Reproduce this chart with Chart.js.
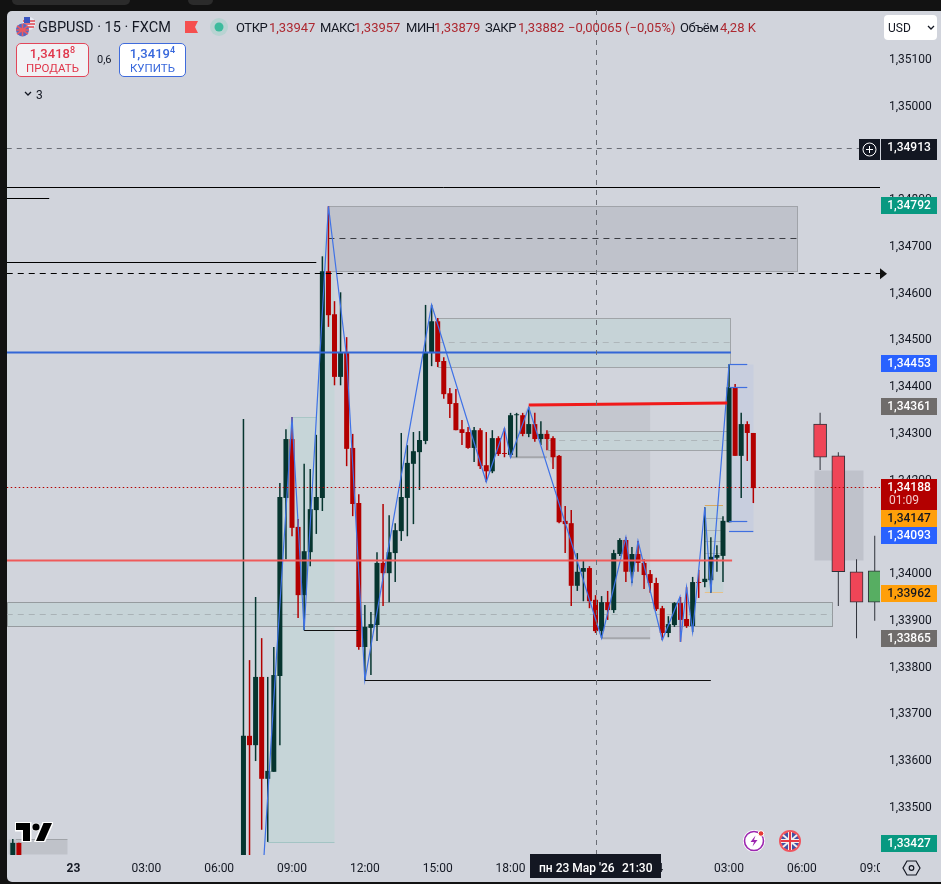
<!DOCTYPE html>
<html>
<head>
<meta charset="utf-8">
<title>GBPUSD 15</title>
<script src="https://cdn.jsdelivr.net/npm/chart.js@4"></script>
<style>
    html, body { margin: 0; padding: 0; background: #121212; width: 941px; height: 884px; overflow: hidden; }
    body { position: relative; font-family: Roboto, sans-serif; color: #131722; }
    #panel { position: absolute; left: 7px; top: 11px; width: 934px; height: 871px; background: #d1d4dc; border-radius: 5px 0 0 5px; }
    #tab1, #tab2 { position: absolute; top: 0; height: 5px; background: #2b2b2b; border-radius: 0 0 8px 8px; }
    #tab1 { left: 12px; width: 118px; }
    #tab2 { left: 188px; width: 25px; }
    canvas { position: absolute; left: 0; top: 0; }
    .t { position: absolute; white-space: nowrap; font-size: 13px; line-height: 16px; top: 20px; }
    .l { letter-spacing: -.45px; }
    .v { color: #ad2830; }
    .box { position: absolute; box-sizing: border-box; text-align: center; border-radius: 5px; border: 1px solid; }
    .box b { display: block; font-weight: 500; font-size: 13px; line-height: 15px; margin-top: 2px; letter-spacing: .1px; }
    .box b sup { font-size: 9px; line-height: 0; }
    .box span { display: block; font-size: 11.5px; line-height: 14px; }
    #sell { left: 16px; top: 43px; width: 73px; height: 34px; border-color: #e2465a; color: #e0364b; background: #f1f2f5; }
    #buy { left: 119px; top: 43px; width: 67px; height: 34px; border-color: #3f6bdc; color: #3868dc; background: #fff; }
    svg { position: absolute; }
</style>
</head>
<body>
<div id="tab1"></div><div id="tab2"></div>
<div id="panel"></div>
<canvas id="chart" width="941" height="884"></canvas>

<svg style="left:16px;top:17px" width="20" height="20" viewBox="0 0 20 20">
    <circle cx="13" cy="6.5" r="6.5" fill="#e9ecf5"/>
    <path d="M7 4h12M7 7h12M8 10h10" stroke="#e0464f" stroke-width="1.4"/>
    <rect x="8" y="0" width="6" height="6" fill="#3a55c0"/>
    <circle cx="6.5" cy="13" r="6.5" fill="#5468c4"/>
    <path d="M1 9l11 8M12 9L1 17M6.5 7v12M0 13h13" stroke="#e85a63" stroke-width="1.6"/>
</svg>
<div class="t" style="left:38px;top:18px;font-size:14.5px;line-height:19px">GBPUSD · 15 · FXCM</div>
<svg style="left:185px;top:20px" width="14" height="14"><path d="M0 1h13l-3 6 3 6H0z" fill="#f54f4f"/></svg>
<svg style="left:209px;top:17px" width="20" height="20"><circle cx="10" cy="10" r="9" fill="#b8d3d2"/><circle cx="10" cy="10" r="4.5" fill="#3dbb9d"/></svg>
<div class="t l" style="left:236px">ОТКР</div><div class="t v" style="left:269px">1,33947</div>
<div class="t l" style="left:320px">МАКС</div><div class="t v" style="left:354px">1,33957</div>
<div class="t l" style="left:406px">МИН</div><div class="t v" style="left:434px">1,33879</div>
<div class="t l" style="left:485px">ЗАКР</div><div class="t v" style="left:518px">1,33882</div>
<div class="t v" style="left:568px">−0,00065 (−0,05%)</div>
<div class="t l" style="left:680px">Объём</div><div class="t v" style="left:720px">4,28 K</div>

<div id="sell" class="box"><b>1,3418<sup>8</sup></b><span>ПРОДАТЬ</span></div>
<div class="t" style="left:97px;top:52px;font-size:11px">0,6</div>
<div id="buy" class="box"><b>1,3419<sup>4</sup></b><span>КУПИТЬ</span></div>
<svg style="left:24px;top:91px" width="8" height="6"><path d="M1 1l3 3 3-3" fill="none" stroke="#131722" stroke-width="1.3"/></svg>
<div class="t" style="left:36px;top:87px;font-size:12px">3</div>
<div style="position:absolute;left:884px;top:15px;width:53px;height:25px;background:#fff;border-radius:4px"></div>
<div class="t" style="left:888px;top:20px;font-size:12px">USD</div>
<svg style="left:927px;top:25px" width="8" height="6"><path d="M1 1l3 3 3-3" fill="none" stroke="#131722" stroke-width="1.3"/></svg>

<svg style="left:15px;top:822px" width="38" height="20" viewBox="-1 -1 38 20"><path d="M14 18H7V7H0V0h14zM28 18h-8L27.6 0H36z" fill="#000" stroke="#fff" stroke-width="3" paint-order="stroke"/><circle cx="20" cy="4" r="3.6" fill="#000" stroke="#fff" stroke-width="1.5" paint-order="stroke"/></svg>

<svg style="left:742px;top:829px" width="24" height="24" viewBox="0 0 24 24"><circle cx="12" cy="12" r="11" fill="#fff"/><circle cx="12" cy="12" r="9.5" fill="none" stroke="#9c27b0" stroke-width="1.6"/><path d="M13.5 6.5L8.5 13h3.5l-1.5 4.5 5-6.5H12z" fill="#9c27b0"/><circle cx="19" cy="4.5" r="2.8" fill="#e53935" stroke="#fff"/></svg>
<svg style="left:778px;top:829px" width="24" height="24" viewBox="0 0 24 24"><circle cx="12" cy="12" r="11" fill="#f0555f"/><circle cx="12" cy="12" r="8.8" fill="#3f51a5"/><path d="M5 6l14 12M19 6L5 18" stroke="#eee" stroke-width="2"/><path d="M12 3v18M3 12h18" stroke="#eee" stroke-width="4"/><path d="M12 3v18M3 12h18" stroke="#e53945" stroke-width="2"/></svg>
<svg style="left:902px;top:859px" width="19" height="18" viewBox="0 0 19 18"><path d="M5 2h9l4 7-4 7H5L1 9z" fill="none" stroke="#131722" stroke-width="1.2"/><circle cx="9.5" cy="9" r="2.3" fill="none" stroke="#131722" stroke-width="1.2"/></svg>

<script>
// Bar position: 0 is midnight of the 23rd, one bar is 15 minutes
const barIndex = [-10, -9,
    28, 29, 30, 31, 32, 33, 34, 35, 36, 37, 38, 39, 40, 41, 42, 43, 44, 45, 46, 47,
    48, 49, 50, 51, 52, 53, 54, 55, 56, 57, 58, 59, 60, 61, 62, 63, 64, 65, 66, 67,
    68, 69, 70, 71, 72, 73, 74, 75, 76, 77, 78, 79, 80, 81, 82, 83, 84, 85, 86, 87,
    88, 89, 90, 91, 92, 93, 94, 95, 96, 97, 98, 99, 100, 101, 102, 103, 104, 105,
    106, 107, 108, 109, 110, 111, 112];
const opens = [1.33346, 1.33425,
    1.33346, 1.33654, 1.33634, 1.33780, 1.33562, 1.33577, 1.33782, 1.34163, 1.34289, 1.34101, 1.33955, 1.34047, 1.34137, 1.34163, 1.34648, 1.34556, 1.34422, 1.34473, 1.34270, 1.34152,
    1.33844, 1.33885, 1.33891, 1.34024, 1.34002, 1.34045, 1.34092, 1.34163, 1.34236, 1.34261, 1.34285, 1.34473, 1.34541, 1.34456, 1.34387, 1.34366, 1.34310, 1.34304, 1.34270, 1.34308,
    1.34233, 1.34220, 1.34291, 1.34259, 1.34255, 1.34340, 1.34340, 1.34300, 1.34321, 1.34289, 1.34300, 1.34291, 1.34253, 1.34114, 1.34109, 1.33975, 1.34005, 1.34013, 1.33945, 1.33878,
    1.33940, 1.33923, 1.34043, 1.34073, 1.34005, 1.34043, 1.34024, 1.34000, 1.33981, 1.33927, 1.33874, 1.33891, 1.33938, 1.33904, 1.33889, 1.33983, 1.33983, 1.33987,
    1.34035, 1.34039, 1.34111, 1.34400, 1.34253, 1.34321, 1.34302];
const highs = [1.33433, 1.33425,
    1.34332, 1.33816, 1.33951, 1.33863, 1.33780, 1.33844, 1.34195, 1.34310, 1.34336, 1.34118, 1.34236, 1.34225, 1.34298, 1.34680, 1.34787, 1.34584, 1.34603, 1.34507, 1.34300, 1.34171,
    1.33934, 1.33919, 1.34047, 1.34150, 1.34126, 1.34109, 1.34302, 1.34276, 1.34304, 1.34306, 1.34576, 1.34576, 1.34548, 1.34464, 1.34398, 1.34396, 1.34330, 1.34315, 1.34315, 1.34312,
    1.34304, 1.34308, 1.34295, 1.34312, 1.34345, 1.34345, 1.34345, 1.34357, 1.34345, 1.34327, 1.34308, 1.34295, 1.34255, 1.34146, 1.34137, 1.34045, 1.34028, 1.34017, 1.33955, 1.33953,
    1.33964, 1.34052, 1.34077, 1.34079, 1.34058, 1.34071, 1.34032, 1.34009, 1.33992, 1.33932, 1.33910, 1.33940, 1.33951, 1.33972, 1.33994, 1.34009, 1.34143, 1.34079,
    1.34062, 1.34124, 1.34449, 1.34407, 1.34345, 1.34327, 1.34302];
const lows = [1.33346, 1.33346,
    1.33303, 1.33346, 1.33600, 1.33453, 1.33427, 1.33577, 1.33634, 1.34032, 1.34081, 1.33906, 1.33880, 1.34017, 1.34086, 1.34135, 1.34529, 1.34404, 1.34404, 1.34231, 1.34124, 1.33838,
    1.33773, 1.33784, 1.33857, 1.33932, 1.33940, 1.33983, 1.34071, 1.34081, 1.34107, 1.34180, 1.34278, 1.34445, 1.34443, 1.34375, 1.34334, 1.34308, 1.34276, 1.34268, 1.34240, 1.34225,
    1.34197, 1.34216, 1.34253, 1.34250, 1.34250, 1.34250, 1.34295, 1.34293, 1.34283, 1.34276, 1.34265, 1.34225, 1.34109, 1.34045, 1.33932, 1.33964, 1.33942, 1.33927, 1.33874, 1.33863,
    1.33902, 1.33917, 1.34039, 1.33983, 1.33981, 1.34005, 1.33968, 1.33960, 1.33921, 1.33859, 1.33865, 1.33887, 1.33855, 1.33885, 1.33876, 1.33949, 1.33972, 1.33960,
    1.34005, 1.33983, 1.34111, 1.34253, 1.34163, 1.34242, 1.34152];
const closes = [1.33425, 1.33346,
    1.33654, 1.33634, 1.33780, 1.33562, 1.33579, 1.33784, 1.34165, 1.34289, 1.34099, 1.33955, 1.34049, 1.34139, 1.34165, 1.34648, 1.34554, 1.34422, 1.34473, 1.34268, 1.34150, 1.33844,
    1.33887, 1.33893, 1.34024, 1.34002, 1.34047, 1.34094, 1.34165, 1.34238, 1.34263, 1.34287, 1.34473, 1.34541, 1.34454, 1.34385, 1.34364, 1.34308, 1.34302, 1.34270, 1.34308, 1.34231,
    1.34220, 1.34291, 1.34257, 1.34257, 1.34340, 1.34342, 1.34300, 1.34321, 1.34289, 1.34300, 1.34289, 1.34250, 1.34111, 1.34107, 1.33975, 1.34005, 1.34013, 1.33942, 1.33878, 1.33940,
    1.33923, 1.34045, 1.34073, 1.34005, 1.34043, 1.34024, 1.33998, 1.33981, 1.33925, 1.33874, 1.33893, 1.33938, 1.33902, 1.33889, 1.33983, 1.33981, 1.33990, 1.34037,
    1.34041, 1.34114, 1.34400, 1.34253, 1.34321, 1.34302, 1.34184];

// The four wide higher timeframe candles on the right
const htfIndex = [123, 126, 129, 132];
const htfOpens = [1.34321, 1.34253, 1.34005, 1.33940];
const htfHighs = [1.34345, 1.34261, 1.34032, 1.34082];
const htfLows = [1.34223, 1.33932, 1.33863, 1.33900];
const htfCloses = [1.34250, 1.34005, 1.33940, 1.34007];

// Zigzag through the swing points
const zigIndex = [31.3, 33.4, 36, 38, 42, 45, 48, 59, 68, 71, 72, 75, 87, 91, 92, 93, 97, 99.9, 100, 101, 102, 104, 105, 108];
const zigPrice = [1.33380, 1.33815, 1.34336, 1.33880, 1.34787, 1.34465, 1.33773, 1.34576, 1.34197, 1.34312, 1.34250, 1.34357, 1.33863, 1.34079, 1.33981, 1.34071, 1.33859, 1.33951, 1.33855, 1.33972, 1.33876, 1.34143, 1.33960, 1.34449];

// Axis ticks
const priceTicks = [1.351, 1.350, 1.349, 1.348, 1.347, 1.346, 1.345, 1.344, 1.343, 1.342, 1.340, 1.339, 1.338, 1.337, 1.336, 1.335];
const timeTicks = [0, 12, 24, 36, 48, 60, 72, 84, 96, 108, 120, 132];
const timeLabels = ['23', '03:00', '06:00', '09:00', '12:00', '15:00', '18:00', '21:00', '24', '03:00', '06:00', '09:00'];

// Price tags on the right axis
const tagPrices = [1.34792, 1.34453, 1.34361, 1.34147, 1.34093, 1.33962, 1.33865, 1.33427];
const tagColors = ['#089981', '#2962ff', '#6f6c6b', '#ff9f0a', '#2962ff', '#ff9f0a', '#6f6c6b', '#089981'];
const lastPrice = 1.34188;
const lastLine = 1.34186;
const countdown = '01:09';
const crossPrice = 1.34913;
const crossLine = 1.34911;
const crossIndex = 86.08;
const crossDate = "пн 23 Мар '26";
const crossTime = '21:30';

const upColor = '#06352f';
const downColor = '#b30000';
const isUp = (o, c) => c >= o;

// Helpers for drawing levels and zones through the chart scales
function px(chart, i) { return chart.scales.x.getPixelForValue(i); }
function py(chart, p) { return chart.scales.y.getPixelForValue(p); }

function hline(chart, i0, i1, price, color, width, dash) {
    const ctx = chart.ctx;
    ctx.save();
    ctx.strokeStyle = color;
    ctx.lineWidth = width;
    ctx.setLineDash(dash || []);
    ctx.beginPath();
    ctx.moveTo(px(chart, i0), Math.round(py(chart, price)) + 0.5);
    ctx.lineTo(px(chart, i1), Math.round(py(chart, price)) + 0.5);
    ctx.stroke();
    ctx.restore();
}

function zone(chart, i0, i1, top, bottom, fill, border) {
    const ctx = chart.ctx;
    const x = Math.round(px(chart, i0)) + 0.5, y = Math.round(py(chart, top)) + 0.5;
    const w = Math.round(px(chart, i1)) + 0.5 - x, h = Math.round(py(chart, bottom)) + 0.5 - y;
    ctx.save();
    ctx.fillStyle = fill;
    ctx.fillRect(x, y, w, h);
    if (border) {
        ctx.strokeStyle = border;
        ctx.lineWidth = 1;
        ctx.strokeRect(x, y, w, h);
    }
    ctx.restore();
}

function polygon(chart, idx, prices, fill) {
    const ctx = chart.ctx;
    ctx.save();
    ctx.fillStyle = fill;
    ctx.beginPath();
    idx.forEach((i, n) => {
        if (n === 0) ctx.moveTo(px(chart, i), py(chart, prices[n]));
        else ctx.lineTo(px(chart, i), py(chart, prices[n]));
    });
    ctx.closePath();
    ctx.fill();
    ctx.restore();
}

function segment(chart, i0, p0, i1, p1, color, width) {
    const ctx = chart.ctx;
    ctx.save();
    ctx.strokeStyle = color;
    ctx.lineWidth = width;
    ctx.beginPath();
    ctx.moveTo(px(chart, i0), py(chart, p0));
    ctx.lineTo(px(chart, i1), py(chart, p1));
    ctx.stroke();
    ctx.restore();
}

// Swing zones, they sit under the candles
const zonesPlugin = {
    id: 'zones',
    beforeDatasetsDraw(chart) {
        const a = chart.chartArea;
        const ctx = chart.ctx;
        ctx.save();
        ctx.beginPath();
        ctx.rect(a.left, a.top, a.right - a.left, a.bottom - a.top);
        ctx.clip();

        // teal impulse area on the left
        polygon(chart,
            [31.5, 33.4, 35, 36, 40, 41, 42, 43, 43],
            [1.33427, 1.33837, 1.34304, 1.34336, 1.34336, 1.34683, 1.34787, 1.34787, 1.33427],
            '#c6d5d8');
        hline(chart, 36, 40, 1.34336, '#a9c6c6', 1);
        hline(chart, 32, 43, 1.33427, '#a3c4c4', 1);

        // grey range in the middle
        polygon(chart,
            [72, 74, 75, 95, 95, 87, 85.5, 82.3, 79.5, 78],
            [1.34250, 1.34340, 1.34362, 1.34362, 1.33863, 1.33863, 1.33932, 1.33936, 1.34223, 1.34250],
            '#c4c7cf');
        segment(chart, 72, 1.34250, 78, 1.34250, '#a4a6ab', 2);
        segment(chart, 82.3, 1.33936, 85.5, 1.33932, '#a4a6ab', 2);
        segment(chart, 87, 1.33863, 95, 1.33863, '#a4a6ab', 2);

        // supply box at the top
        zone(chart, 42, 119.2, 1.34787, 1.34648, '#bfc2cb', '#a0a3a9');
        hline(chart, 42, 119.2, 1.34719, '#3a3c42', 1, [6, 5]);

        // teal order blocks
        zone(chart, 60, 108.2, 1.34548, 1.34443, '#c6d3d7', '#a0a4a8');
        hline(chart, 60, 108.2, 1.34497, '#aeb6ba', 1, [6, 5]);
        zone(chart, 78.2, 108.2, 1.34306, 1.34266, '#c6d3d7', '#a0a4a8');
        hline(chart, 78.2, 108.2, 1.34287, '#aeb6ba', 1, [6, 5]);
        zone(chart, -11, 125, 1.33940, 1.33889, '#c6d3d7', '#969b9f');
        hline(chart, -11, 125, 1.33915, '#a9b2b6', 1, [6, 5]);

        // grey box behind the wide candles
        zone(chart, 122, 130.1, 1.34223, 1.34030, '#bfc2cb');

        // small box bottom left
        zone(chart, -10.8, -1, 1.33433, 1.33401, '#bfc2c9');
        hline(chart, -9.5, -1, 1.33433, '#a0a3a8', 1);

        // box around the last leg
        zone(chart, 108, 112, 1.34449, 1.34093, '#c8cede');
        zone(chart, 104, 107, 1.34147, 1.33962, '#c6d3d7');
        [1.34120, 1.34095, 1.34070, 1.34045].forEach(p => hline(chart, 104, 107, p, '#aab2b6', 1));
        hline(chart, 104, 107, 1.34147, '#d8a860', 1);
        hline(chart, 104, 107, 1.33962, '#e6c08a', 1);
        ctx.restore();
    }
};

// Levels that run over the candles, and the axis tags
const overlayPlugin = {
    id: 'overlay',
    afterDatasetsDraw(chart) {
        const a = chart.chartArea;
        const ctx = chart.ctx;
        ctx.save();
        ctx.beginPath();
        ctx.rect(a.left, a.top, a.right - a.left, a.bottom - a.top);
        ctx.clip();

        hline(chart, -11, 133, 1.34828, '#000', 1);
        hline(chart, -11, -4, 1.34805, '#000', 1);
        hline(chart, -11, 40, 1.34668, '#000', 1);
        hline(chart, -11, 133, 1.34644, '#000', 1.2, [6, 5]);
        hline(chart, -11, 108.3, 1.34475, '#3366d6', 2);
        hline(chart, -11, 108.5, 1.34030, '#ef5a5a', 2);
        hline(chart, 38, 46.9, 1.33880, '#111', 1.2);
        hline(chart, 48, 105, 1.33773, '#111', 1.2);
        segment(chart, 75, 1.34362, 107.7, 1.34366, '#f01a1a', 3);

        // ticks on the last leg
        hline(chart, 108, 111, 1.34449, '#3f6fe0', 1.2);
        hline(chart, 108, 111, 1.34400, '#3f6fe0', 1.2);
        hline(chart, 108, 111, 1.34114, '#3f6fe0', 1.2);
        hline(chart, 108, 112, 1.34093, '#3f6fe0', 1.2);

        // last price and crosshair
        hline(chart, -11, 133, lastLine, '#b30000', 1, [1.5, 2.5]);
        hline(chart, -11, 133, crossLine, '#6a6d75', 1, [5, 5]);
        ctx.strokeStyle = '#6a6d75';
        ctx.lineWidth = 1;
        ctx.setLineDash([5, 5]);
        ctx.beginPath();
        ctx.moveTo(Math.round(px(chart, crossIndex)) + 0.5, a.top);
        ctx.lineTo(Math.round(px(chart, crossIndex)) + 0.5, a.bottom);
        ctx.stroke();
        ctx.restore();

        // arrow at the end of the dashed level
        const ay = py(chart, 1.34644);
        ctx.fillStyle = '#111';
        ctx.beginPath();
        ctx.moveTo(a.right, ay - 5);
        ctx.lineTo(a.right + 7, ay + 0.5);
        ctx.lineTo(a.right, ay + 6);
        ctx.closePath();
        ctx.fill();
    },
    afterDraw(chart) {
        const a = chart.chartArea;
        const ctx = chart.ctx;
        const fmt = p => p.toFixed(5).replace('.', ',');
        ctx.save();

        // hide what the last time label shows past the plot
        ctx.fillStyle = '#d1d4dc';
        ctx.fillRect(a.right, a.bottom + 1, 24, 26);

        const tag = (price, bg, fg, top, h) => {
            ctx.fillStyle = bg;
            ctx.fillRect(881, top, 56, h);
            ctx.fillStyle = fg;
            ctx.font = '500 12px Roboto';
            ctx.textAlign = 'center';
            ctx.textBaseline = 'middle';
            ctx.fillText(fmt(price), 909, top + 8.8);
        };

        // tags stack under each other instead of overlapping
        let stackBottom = 0;
        const lastTop = 479, lastBottom = 510;
        tagPrices.forEach((p, n) => {
            let top = Math.round(py(chart, p)) - 7;
            if (p < lastPrice) stackBottom = Math.max(stackBottom, lastBottom);
            top = Math.max(top, stackBottom);
            tag(p, tagColors[n], tagColors[n] === '#ff9f0a' ? '#131722' : '#fff', top, 17);
            stackBottom = top + 17;
        });

        // last price with countdown
        tag(lastPrice, '#b30000', '#fff', lastTop, lastBottom - lastTop);
        ctx.fillStyle = '#f3c9c9';
        ctx.font = '12px Roboto';
        ctx.textAlign = 'left';
        ctx.fillText(countdown, 889, 501);

        // crosshair price
        const cy = Math.round(py(chart, crossPrice));
        tag(crossPrice, '#131722', '#fff', cy - 8, 21);
        ctx.fillStyle = '#131722';
        ctx.fillRect(859, cy - 8, 21, 21);
        ctx.strokeStyle = '#fff';
        ctx.lineWidth = 1;
        ctx.beginPath();
        ctx.arc(869.5, cy + 2.5, 6.5, 0, Math.PI * 2);
        ctx.moveTo(866, cy + 2.5);
        ctx.lineTo(873, cy + 2.5);
        ctx.moveTo(869.5, cy - 1);
        ctx.lineTo(869.5, cy + 6);
        ctx.stroke();

        // crosshair date
        ctx.fillStyle = '#131722';
        ctx.fillRect(530, 854, 131, 24);
        ctx.fillStyle = '#fff';
        ctx.font = '500 12px Roboto';
        ctx.textAlign = 'left';
        ctx.textBaseline = 'middle';
        ctx.fillText(crossDate, 539, 869);
        ctx.fillText(crossTime, 622, 869);
        ctx.restore();
    }
};

function bodyData(idx, o, c) { return idx.map((x, i) => ({ x: x, y: [o[i], c[i]] })); }
function wickData(idx, l, h) { return idx.map((x, i) => ({ x: x, y: [l[i], h[i]] })); }

const data = {
    datasets: [
        {
            type: 'line', data: zigIndex.map((x, i) => ({ x: x, y: zigPrice[i] })),
            borderColor: '#3f72e6', borderWidth: 1.2, pointRadius: 0, tension: 0, order: 0
        },
        {
            type: 'bar', data: bodyData(barIndex, opens, closes),
            backgroundColor: barIndex.map((x, i) => isUp(opens[i], closes[i]) ? upColor : downColor),
            barThickness: 5, grouped: false, order: 1, borderSkipped: false, inflateAmount: 0
        },
        {
            type: 'bar', data: wickData(barIndex, lows, highs),
            backgroundColor: barIndex.map((x, i) => isUp(opens[i], closes[i]) ? upColor : downColor),
            barThickness: 1.5, grouped: false, order: 2, borderSkipped: false, inflateAmount: 0
        },
        {
            type: 'bar', data: bodyData(htfIndex, htfOpens, htfCloses),
            backgroundColor: htfIndex.map((x, i) => isUp(htfOpens[i], htfCloses[i]) ? '#57ae62' : '#ef4557'),
            borderColor: '#2f323a', borderWidth: 1, barThickness: 13, grouped: false, order: 3, borderSkipped: false
        },
        {
            type: 'bar', data: wickData(htfIndex, htfLows, htfHighs),
            backgroundColor: '#2f323a',
            barThickness: 1, grouped: false, order: 4, borderSkipped: false, inflateAmount: 0
        }
    ]
};

new Chart(document.getElementById('chart'), {
    data: data,
    plugins: [zonesPlugin, overlayPlugin],
    options: {
        responsive: false,
        animation: false,
        layout: { padding: { left: 7, top: 10, right: 0, bottom: 0 } },
        plugins: { legend: { display: false }, tooltip: { enabled: false } },
        scales: {
            x: {
                type: 'linear',
                offset: false,
                min: -10.955,
                max: 132.867,
                grid: { display: false, drawTicks: false },
                border: { display: false },
                afterBuildTicks: (scale) => { scale.ticks = timeTicks.map(v => ({ value: v })); },
                afterFit: (scale) => { scale.height = 29; scale.paddingLeft = 0; scale.paddingRight = 0; },
                ticks: {
                    autoSkip: false,
                    maxRotation: 0,
                    padding: 7,
                    color: '#131722',
                    font: (ctx) => ({ family: 'Roboto', size: 12, weight: ctx.tick && (ctx.tick.value === 0 || ctx.tick.value === 96) ? '700' : '400' }),
                    callback: (v) => timeLabels[timeTicks.indexOf(v)]
                }
            },
            y: {
                position: 'right',
                min: 1.33399,
                max: 1.35207,
                grid: { display: false, drawTicks: false },
                border: { display: false },
                afterBuildTicks: (scale) => { scale.ticks = priceTicks.map(v => ({ value: v })); },
                afterFit: (scale) => { scale.width = 61; scale.paddingTop = 0; scale.paddingBottom = 0; },
                ticks: {
                    padding: 9,
                    color: '#131722',
                    font: { family: 'Roboto', size: 12 },
                    callback: (v) => v.toFixed(5).replace('.', ',')
                }
            }
        }
    }
});
</script>
</body>
</html>
